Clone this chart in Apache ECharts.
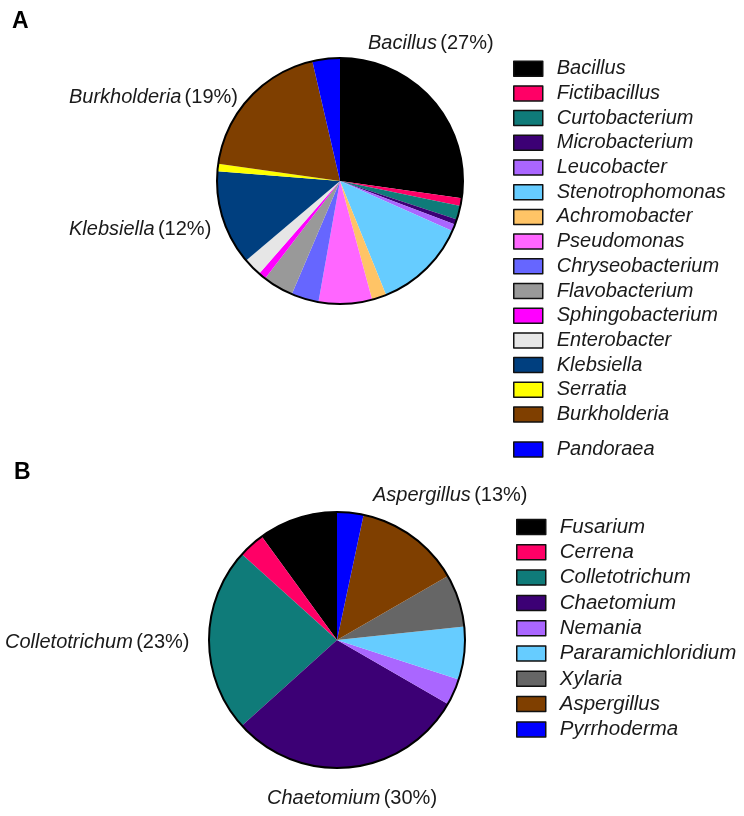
<!DOCTYPE html>
<html>
<head>
<meta charset="utf-8">
<script src="https://cdn.jsdelivr.net/npm/echarts@6/dist/echarts.min.js"></script>
<style>
  html, body { margin: 0; padding: 0; background: #fff; }
  #chart { width: 744px; height: 816px; }
</style>
</head>
<body>
<div id="chart"></div>
<script>
// panel A: bacterial genera (% of isolates), clockwise from 12 o'clock
const bacteriaNames = ['Bacillus', 'Fictibacillus', 'Curtobacterium', 'Microbacterium', 'Leucobacter',
  'Stenotrophomonas', 'Achromobacter', 'Pseudomonas', 'Chryseobacterium', 'Flavobacterium',
  'Sphingobacterium', 'Enterobacter', 'Klebsiella', 'Serratia', 'Burkholderia', 'Pandoraea']
const bacteriaValues = [27.2, 1.0, 1.8, 0.7, 0.9, 12.2, 1.9, 7.0, 3.6, 4.0, 1.0, 2.4, 12.4, 1.0, 19.1, 3.6]
const bacteriaColors = ['#000000', '#ff0066', '#0f7b79', '#3c0075', '#aa66ff', '#66ccff', '#ffc466',
  '#ff66ff', '#6666ff', '#999999', '#ff00ff', '#e6e6e6', '#003f7f', '#ffff00', '#7f3f00', '#0000ff']
const bacteriaLabeled = ['Bacillus', 'Burkholderia', 'Klebsiella']

// panel B: fungal genera (isolate counts), counter-clockwise from 12 o'clock
const fungiNames = ['Fusarium', 'Cerrena', 'Colletotrichum', 'Chaetomium', 'Nemania',
  'Pararamichloridium', 'Xylaria', 'Aspergillus', 'Pyrrhoderma']
const fungiValues = [3, 1, 7, 9, 1, 2, 2, 4, 1]
const fungiColors = ['#000000', '#ff0066', '#0f7b79', '#3c0075', '#aa66ff', '#66ccff', '#666666',
  '#7f3f00', '#0000ff']
const fungiLabeled = ['Aspergillus', 'Colletotrichum', 'Chaetomium']

const FONT = '"Liberation Sans", Arial, sans-serif'

// where the callout labels sit (left edge, vertical middle)
const labelSpots = {
  Bacillus: [368, 43],
  Burkholderia: [69, 97],
  Klebsiella: [69, 229],
  Aspergillus: [373, 495],
  Colletotrichum: [5, 642],
  Chaetomium: [267, 798],
}

function buildData(names, values, colors, labeled) {
  return names.map((name, i) => ({
    name,
    value: values[i],
    itemStyle: { color: colors[i] },
    label: { show: labeled.includes(name) },
  }))
}

const labelOpt = {
  position: 'outside',
  formatter: (p) => '{n|' + p.name + '} {p|(' + Math.round(p.percent) + '%)}',
  rich: {
    n: { fontStyle: 'italic', fontSize: 20, fontFamily: FONT, color: '#1a1a1a' },
    p: { fontSize: 20, fontFamily: FONT, color: '#1a1a1a' },
  },
}

const legendBase = {
  orient: 'vertical',
  icon: 'rect',
  padding: 0,
  itemWidth: 29,
  itemHeight: 15,
  selectedMode: false,
  itemStyle: { borderColor: '#111', borderWidth: 1.5 },
  textStyle: { fontStyle: 'italic', fontFamily: FONT, color: '#1a1a1a', padding: [0, 0, 0, 9] },
}

const chart = echarts.init(document.getElementById('chart'))

const option = {
  animation: false,
  backgroundColor: '#fff',
  graphic: [
    { type: 'text', left: 12, top: 10, style: { text: 'A', fontSize: 23, fontWeight: 'bold', fontFamily: FONT, fill: '#000' } },
    { type: 'text', left: 14, top: 461, style: { text: 'B', fontSize: 23, fontWeight: 'bold', fontFamily: FONT, fill: '#000' } },
  ],
  // polar systems only used to draw the black outline circle round each pie
  polar: [
    { center: [340, 181], radius: 123 },
    { center: [337, 640], radius: 128 },
  ],
  angleAxis: [0, 1].map((i) => ({
    polarIndex: i,
    z: 10,
    axisLine: { lineStyle: { color: '#000', width: 2 } },
    axisTick: { show: false },
    axisLabel: { show: false },
    splitLine: { show: false },
  })),
  radiusAxis: [0, 1].map((i) => ({ polarIndex: i, show: false })),
  legend: [
    Object.assign({}, legendBase, {
      data: bacteriaNames.slice(0, 15),
      left: 513, top: 58.7, itemGap: 4.7,
      textStyle: Object.assign({}, legendBase.textStyle, { fontSize: 20 }),
    }),
    Object.assign({}, legendBase, {
      data: bacteriaNames.slice(15),
      left: 513, top: 439.5,
      textStyle: Object.assign({}, legendBase.textStyle, { fontSize: 20 }),
    }),
    Object.assign({}, legendBase, {
      data: fungiNames,
      left: 516, top: 517, itemGap: 5.3,
      textStyle: Object.assign({}, legendBase.textStyle, { fontSize: 20.5 }),
    }),
  ],
  series: [
    {
      type: 'pie',
      center: [340, 181],
      radius: 123,
      startAngle: 90,
      clockwise: true,
      avoidLabelOverlap: false,
      label: labelOpt,
      labelLine: { show: false },
      labelLayout: (params) => {
        const spot = labelSpots[bacteriaNames[params.dataIndex]]
        if (!spot) return {}
        return { x: spot[0], y: spot[1], align: 'left', verticalAlign: 'middle' }
      },
      emphasis: { disabled: true },
      data: buildData(bacteriaNames, bacteriaValues, bacteriaColors, bacteriaLabeled),
    },
    {
      type: 'pie',
      center: [337, 640],
      radius: 128,
      startAngle: 90,
      clockwise: false,
      avoidLabelOverlap: false,
      label: labelOpt,
      labelLine: { show: false },
      labelLayout: (params) => {
        const spot = labelSpots[fungiNames[params.dataIndex]]
        if (!spot) return {}
        return { x: spot[0], y: spot[1], align: 'left', verticalAlign: 'middle' }
      },
      emphasis: { disabled: true },
      data: buildData(fungiNames, fungiValues, fungiColors, fungiLabeled),
    },
  ],
}

chart.setOption(option)
</script>
</body>
</html>
